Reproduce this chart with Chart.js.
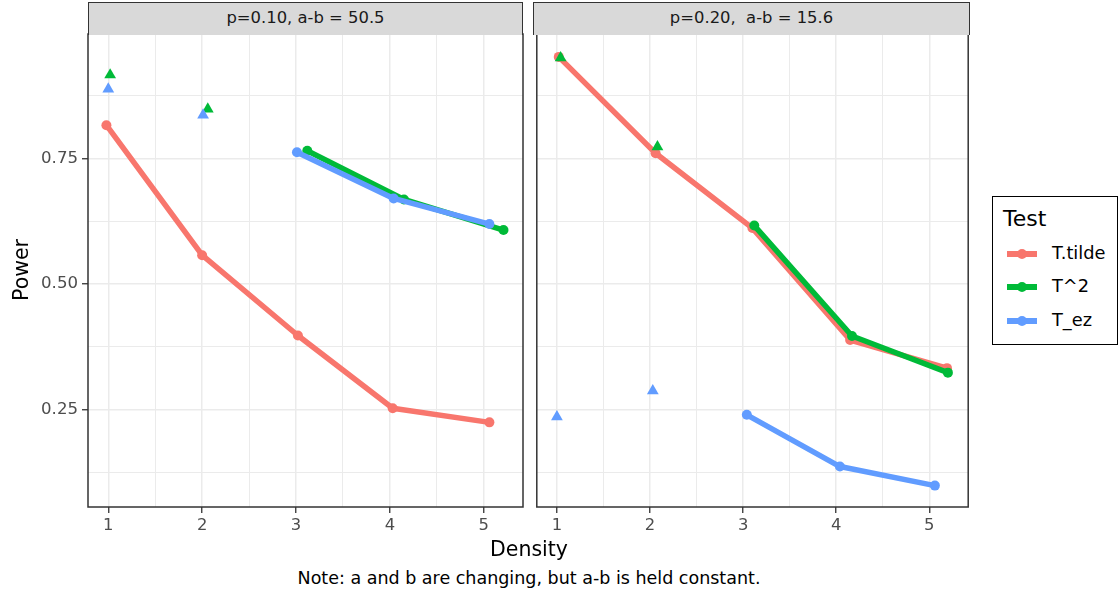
<!DOCTYPE html>
<html><head><meta charset="utf-8">
<script src="https://cdn.jsdelivr.net/npm/chart.js@4.4.1/dist/chart.umd.min.js"></script>
<style>
body{margin:0;background:#fff;width:1119px;height:592px;overflow:hidden;position:relative;font-family:"DejaVu Sans",sans-serif;}
canvas{position:absolute;top:0;}
#c1{left:0px}
#c2{left:530px}
.strip{position:absolute;top:2px;height:33px;background:#D9D9D9;border:1.5px solid #333;border-bottom:none;box-sizing:border-box;color:#1A1A1A;font-size:16.4px;line-height:30px;text-align:center;white-space:pre;}
.txt{position:absolute;color:#000;white-space:nowrap;}
#ytitle{left:21px;top:270px;font-size:20.5px;transform:translate(-50%,-50%) rotate(-90deg);}
#xtitle{left:529px;top:549px;font-size:20.5px;transform:translate(-50%,-50%);}
#note{left:529px;top:578px;font-size:17.5px;transform:translate(-50%,-50%);}
#legend{position:absolute;left:992px;top:196px;width:126px;height:149px;border:1.5px solid #000;box-sizing:border-box;}
#legend .title{position:absolute;left:10px;top:9px;font-size:22px;}
.item{position:absolute;left:0;height:20px;width:120px;}
.key{position:absolute;left:14px;top:7px;width:30px;height:5.5px;}
.dot{position:absolute;left:10px;top:-2px;width:10px;height:10px;border-radius:50%;}
.lab{position:absolute;left:59px;top:-1px;font-size:17.8px;line-height:20px;}
</style></head><body>
<canvas id="c1" width="530" height="540"></canvas>
<canvas id="c2" width="445" height="540"></canvas>
<div class="strip" id="s1" style="left:88px;width:435px;"></div>
<div class="strip" id="s2" style="left:533px;width:437px;"></div>
<div class="txt" id="ytitle">Power</div>
<div class="txt" id="xtitle">Density</div>
<div class="txt" id="note">Note: a and b are changing, but a-b is held constant.</div>
<div id="legend"><div class="title">Test</div></div>
<script>
// ---- data ----
const panelTitles = ['p=0.10, a-b = 50.5', 'p=0.20,  a-b = 15.6'];
const testNames = ['T.tilde', 'T^2', 'T_ez'];
const testColors = ['#F8766D', '#00BA38', '#619CFF'];

// Panel 1 (p=0.10)
const p1TildeX = [0.98, 2.00, 3.02, 4.03, 5.06];
const p1TildeY = [0.816, 0.557, 0.397, 0.252, 0.224];
const p1T2TriX = [1.02, 2.06];
const p1T2TriY = [0.916, 0.848];
const p1T2LineX = [3.12, 4.15, 5.21];
const p1T2LineY = [0.765, 0.668, 0.607];
const p1EzTriX = [1.00, 2.01];
const p1EzTriY = [0.888, 0.836];
const p1EzLineX = [3.01, 4.04, 5.06];
const p1EzLineY = [0.762, 0.670, 0.619];

// Panel 2 (p=0.20)
const p2TildeX = [1.02, 2.06, 3.10, 4.15, 5.19];
const p2TildeY = [0.952, 0.760, 0.611, 0.388, 0.332];
const p2T2TriX = [1.04, 2.08];
const p2T2TriY = [0.950, 0.773];
const p2T2LineX = [3.12, 4.17, 5.20];
const p2T2LineY = [0.616, 0.396, 0.323];
const p2EzTriX = [1.00, 2.03];
const p2EzTriY = [0.235, 0.287];
const p2EzLineX = [3.04, 4.04, 5.06];
const p2EzLineY = [0.239, 0.136, 0.098];

// axes
const xMajor = [1, 2, 3, 4, 5];
const xLabels = ['1', '2', '3', '4', '5'];
const xMinor = [1.5, 2.5, 3.5, 4.5];
const yMajor = [0.25, 0.50, 0.75];
const yLabels = ['0.25', '0.50', '0.75'];
const yMinor = [0.125, 0.375, 0.625, 0.875];
const xRange = [0.784, 5.418];
const yRange = [0.0554, 0.9976];

// ---- build ----
const FONT = 'DejaVu Sans';
Chart.defaults.font.family = FONT;

function pts(xs, ys){ return xs.map((x,i)=>({x:x, y:ys[i]})); }
function isMajor(v, arr){ return arr.some(a=>Math.abs(a-v)<1e-6); }

function lineDs(xs, ys, ti){
  return {label:testNames[ti], data:pts(xs,ys), borderColor:testColors[ti], backgroundColor:testColors[ti],
    borderWidth:5.5, tension:0, showLine:true, pointRadius:5, pointBorderWidth:0, pointStyle:'circle',
    pointBackgroundColor:testColors[ti], borderJoinStyle:'round', order:3-ti};
}
function triDs(xs, ys, ti){
  return {label:testNames[ti], data:pts(xs,ys), borderColor:testColors[ti], backgroundColor:testColors[ti],
    showLine:false, pointRadius:6.8, pointBorderWidth:0, pointStyle:'triangle',
    pointBackgroundColor:testColors[ti], order:3-ti};
}

const borderPlugin = {
  id:'panelBorder',
  afterDraw(chart){
    const a = chart.chartArea, c = chart.ctx;
    c.save(); c.strokeStyle = '#333333'; c.lineWidth = 1.5;
    c.strokeRect(a.left, a.top, a.right-a.left, a.bottom-a.top);
    c.restore();
  }
};

function makeOptions(showY, yWidth, padRight){
  const gridCommon = (majors)=>({
    color:'#EBEBEB',
    lineWidth: ctx => (ctx.tick && isMajor(ctx.tick.value, majors)) ? 1.5 : 1,
    tickLength: 6,
    tickWidth: 1.3,
    tickColor: ctx => (ctx.tick && isMajor(ctx.tick.value, majors)) ? '#333333' : 'rgba(0,0,0,0)'
  });
  return {
    responsive:false, animation:false, devicePixelRatio:1,
    layout:{padding:{top:34, left:0, right:padRight, bottom:0}},
    plugins:{legend:{display:false}, tooltip:{enabled:false}},
    scales:{
      x:{type:'linear', min:xRange[0], max:xRange[1],
        afterBuildTicks: s => { s.ticks = xMajor.concat(xMinor).sort((a,b)=>a-b).map(v=>({value:v})); },
        afterFit: s => { s.height = 33; },
        ticks:{autoSkip:false, maxRotation:0, padding:3, color:'#4D4D4D', font:{family:FONT, size:16.4},
          callback: v => { const i = xMajor.findIndex(a=>Math.abs(a-v)<1e-6); return i>=0 ? xLabels[i] : ''; }},
        grid: gridCommon(xMajor),
        border:{display:false}
      },
      y:{type:'linear', min:yRange[0], max:yRange[1],
        afterBuildTicks: s => { s.ticks = yMajor.concat(yMinor).sort((a,b)=>a-b).map(v=>({value:v})); },
        afterFit: s => { s.width = yWidth; },
        ticks:{display:showY, autoSkip:false, padding:4, color:'#4D4D4D', font:{family:FONT, size:16.6},
          callback: v => { const i = yMajor.findIndex(a=>Math.abs(a-v)<1e-6); return i>=0 ? yLabels[i] : ''; }},
        grid: Object.assign(gridCommon(yMajor), showY ? {} : {drawTicks:false}),
        border:{display:false}
      }
    }
  };
}

new Chart(document.getElementById('c1'), {
  type:'scatter',
  data:{datasets:[
    lineDs(p1TildeX, p1TildeY, 0),
    triDs(p1T2TriX, p1T2TriY, 1),
    lineDs(p1T2LineX, p1T2LineY, 1),
    triDs(p1EzTriX, p1EzTriY, 2),
    lineDs(p1EzLineX, p1EzLineY, 2)
  ]},
  options: makeOptions(true, 88, 7),
  plugins:[borderPlugin]
});

new Chart(document.getElementById('c2'), {
  type:'scatter',
  data:{datasets:[
    lineDs(p2TildeX, p2TildeY, 0),
    triDs(p2T2TriX, p2T2TriY, 1),
    lineDs(p2T2LineX, p2T2LineY, 1),
    triDs(p2EzTriX, p2EzTriY, 2),
    lineDs(p2EzLineX, p2EzLineY, 2)
  ]},
  options: makeOptions(false, 3, 5),
  plugins:[borderPlugin]
});

document.getElementById('s1').textContent = panelTitles[0];
document.getElementById('s2').textContent = panelTitles[1];

const legend = document.getElementById('legend');
const itemTops = [47, 80, 114];
testNames.forEach((n,i)=>{
  const it = document.createElement('div'); it.className='item'; it.style.top = itemTops[i]+'px';
  const k = document.createElement('div'); k.className='key'; k.style.background = testColors[i];
  const d = document.createElement('div'); d.className='dot'; d.style.background = testColors[i];
  k.appendChild(d);
  const l = document.createElement('div'); l.className='lab'; l.textContent = n;
  it.appendChild(k); it.appendChild(l); legend.appendChild(it);
});
</script>
</body></html>
